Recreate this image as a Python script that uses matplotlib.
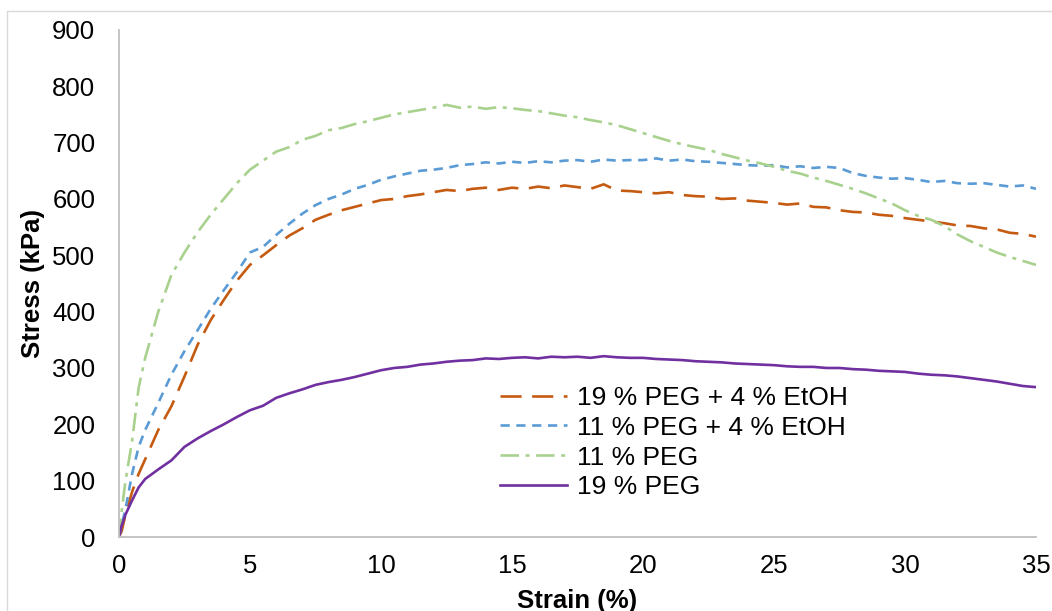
import matplotlib
matplotlib.use("Agg")
import matplotlib.pyplot as plt
from matplotlib.patches import Rectangle

plt.rcParams['font.family'] = ['Liberation Sans', 'DejaVu Sans']

# strain (%) sampling points
strain = [0, 0.1, 0.25, 0.5, 0.75, 1.0,
          1.5, 2.0, 2.5, 3.0, 3.5, 4.0, 4.5, 5.0, 5.5, 6.0, 6.5, 7.0, 7.5, 8.0,
          8.5, 9.0, 9.5, 10.0, 10.5, 11.0, 11.5, 12.0, 12.5, 13.0, 13.5, 14.0,
          14.5, 15.0, 15.5, 16.0, 16.5, 17.0, 17.5, 18.0, 18.5, 19.0, 19.5, 20.0,
          20.5, 21.0, 21.5, 22.0, 22.5, 23.0, 23.5, 24.0, 24.5, 25.0, 25.5, 26.0,
          26.5, 27.0, 27.5, 28.0, 28.5, 29.0, 29.5, 30.0, 30.5, 31.0, 31.5, 32.0,
          32.5, 33.0, 33.5, 34.0, 34.5, 35.0]

# stress (kPa) per sample
peg19_etoh = [0, 10, 40, 80, 112, 138,
              190, 232, 285, 341, 385, 421, 455, 483, 500, 518, 535, 548, 563, 572,
              580, 586, 592, 598, 600, 605, 608, 612, 616, 614, 618, 620,
              616, 620, 618, 622, 619, 624, 621, 618, 626, 615, 614, 612,
              610, 612, 607, 605, 604, 600, 601, 597, 595, 593, 590, 592,
              586, 585, 580, 577, 576, 572, 570, 566, 563, 560, 557, 553,
              552, 548, 546, 540, 538, 533]
peg11_etoh = [0, 20, 50, 112, 160, 190,
              238, 288, 330, 367, 405, 438, 470, 505, 515, 536, 556, 574, 589, 600,
              608, 618, 625, 634, 640, 645, 650, 652, 655, 660, 662, 665,
              663, 666, 664, 667, 665, 668, 669, 666, 670, 668, 669, 669,
              672, 668, 670, 667, 666, 664, 662, 660, 659, 660, 656, 658,
              655, 657, 655, 646, 641, 638, 636, 637, 634, 630, 632, 628,
              627, 628, 625, 622, 624, 618]
peg11 = [0, 45, 100, 170, 265, 318,
         400, 465, 505, 541, 572, 600, 628, 652, 668, 684, 692, 705, 712, 722,
         726, 733, 738, 744, 750, 754, 758, 762, 767, 762, 764, 760,
         763, 761, 758, 756, 752, 748, 745, 740, 736, 731, 724, 717,
         710, 703, 697, 692, 687, 680, 674, 668, 663, 657, 650, 645,
         638, 632, 625, 618, 610, 601, 592, 580, 570, 563, 552, 537,
         525, 515, 505, 497, 490, 483]
peg19 = [0, 20, 40, 65, 88, 103,
         120, 136, 160, 175, 188, 200, 213, 225, 233, 247, 255, 262, 270, 275,
         279, 284, 290, 296, 300, 302, 306, 308, 311, 313, 314, 317,
         316, 318, 319, 317, 320, 319, 320, 318, 321, 319, 318, 318,
         316, 315, 314, 312, 311, 310, 308, 307, 306, 305, 303, 302,
         302, 300, 300, 298, 297, 295, 294, 293, 290, 288, 287, 285,
         282, 279, 276, 272, 268, 266]

labels = ['19 % PEG + 4 % EtOH', '11 % PEG + 4 % EtOH', '11 % PEG', '19 % PEG']

fig = plt.figure(figsize=(10.52, 6.11), dpi=100)
ax = fig.add_axes([0.1131, 0.1211, 0.8717, 0.8299])

lw = 1.9
ax.plot(strain, peg19_etoh, color='#C55A11', lw=lw, dashes=(8, 4), label=labels[0])
ax.plot(strain, peg11_etoh, color='#5B9BD5', lw=lw, dashes=(3.5, 2.5), label=labels[1])
ax.plot(strain, peg11, color='#A9D18E', lw=lw, dashes=(7, 2.5, 1.5, 2.5), label=labels[2])
ax.plot(strain, peg19, color='#7030A0', lw=lw, label=labels[3])

ax.set_xlim(0, 35)
ax.set_ylim(0, 900)
ax.set_xticks(range(0, 36, 5))
ax.set_yticks(range(0, 901, 100))
ax.tick_params(axis='y', length=0, labelsize=18.5, pad=17)
ax.tick_params(axis='x', length=0, labelsize=18.5, pad=12)
for s in ['top', 'right']:
    ax.spines[s].set_visible(False)
for s in ['left', 'bottom']:
    ax.spines[s].set_color('#BFBFBF')
    ax.spines[s].set_linewidth(1.3)

ax.set_xlabel('Strain (%)', fontsize=18.5, fontweight='bold', labelpad=8)
ax.set_ylabel('Stress (kPa)', fontsize=18.5, fontweight='bold', labelpad=5)

ax.legend(loc='upper left', bbox_to_anchor=(0.4155, 0.298), frameon=False,
          fontsize=19, handlelength=2.55, handletextpad=0.35,
          labelspacing=0.22, borderpad=0, borderaxespad=0)

fig.patches.append(Rectangle((7 / 1052, -0.1), 1.2, 1.1 - 11 / 611,
                             transform=fig.transFigure, fill=False,
                             edgecolor='#D9D9D9', lw=1))

fig.savefig('out.png', dpi=100)
